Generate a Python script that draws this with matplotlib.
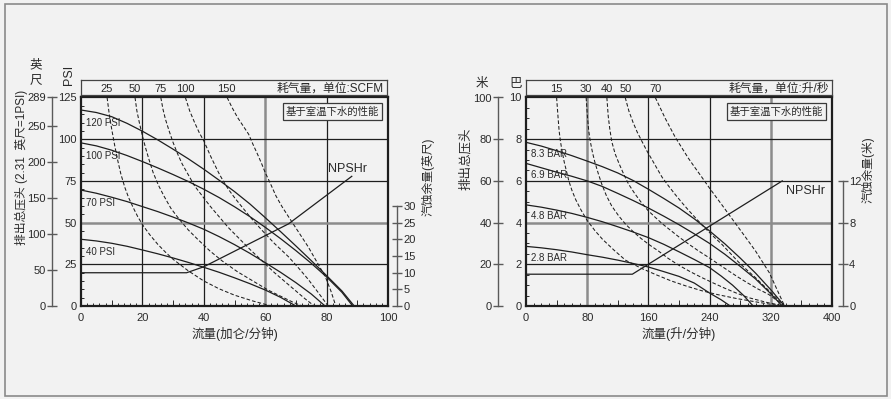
"""
Pump performance curves (US units left, metric units right).
Solid lines = discharge head at a given air inlet pressure,
dashed lines = air consumption, plus the NPSHr curve on its own scale.
"""

import matplotlib
matplotlib.use("Agg")
import matplotlib.pyplot as plt
from matplotlib import font_manager
from matplotlib.patches import Rectangle
from matplotlib.ticker import MultipleLocator

installed = {f.name for f in font_manager.fontManager.ttflist}
LATIN = "Liberation Sans Narrow" if "Liberation Sans Narrow" in installed else "Liberation Sans"
plt.rcParams["font.family"] = [LATIN, "Noto Sans CJK SC", "DejaVu Sans"]

# ---------------- left chart: gpm / PSI / SCFM / ft ----------------
gpm_ticks = [0, 20, 40, 60, 80, 100]
psi_ticks = [0, 25, 50, 75, 100, 125]
feet_ticks = [0, 50, 100, 150, 200, 250, 289]
npsh_ft_ticks = [0, 5, 10, 15, 20, 25, 30]
psi_labels = ["120 PSI", "100 PSI", "70 PSI", "40 PSI"]
scfm_labels = ["25", "50", "75", "100", "150"]

gpm_120psi = [0, 5, 10, 15, 20, 25, 30, 35, 40, 45, 50, 55, 60, 65, 70, 75, 80, 85, 89]
head_120psi = [117.5, 116, 113.5, 109.5, 104.8, 99.6, 94, 88.2, 82, 75.4, 68.6,
               61.2, 53, 44.6, 36, 27.2, 18.2, 9, 0]
gpm_100psi = [0, 5, 10, 15, 20, 25, 30, 35, 40, 45, 50, 55, 60, 65, 70, 75, 80, 85, 88.5]
head_100psi = [97.8, 96, 93.4, 90.2, 86.6, 82.8, 78.8, 74.6, 70, 65, 59.5,
               53.6, 47.2, 40.4, 33.2, 25.6, 17.4, 8.2, 0]
gpm_70psi = [0, 5, 10, 15, 20, 25, 30, 35, 40, 45, 50, 55, 60, 65, 70, 75, 79.5]
head_70psi = [69.5, 67.6, 65.2, 62.6, 59.6, 56.6, 53.3, 49.8, 46, 41.6, 36.8,
              31.6, 26, 20.2, 14, 7.2, 0]
gpm_40psi = [0, 5, 10, 15, 20, 25, 30, 35, 40, 45, 50, 55, 60, 65, 70]
head_40psi = [40, 39, 37.6, 35.8, 33.6, 31.3, 28.8, 26.1, 23.2, 20.2, 16.9,
              13.4, 9.6, 5.2, 0]

gpm_25scfm = [8.5, 9.2, 10, 11, 12, 13, 14.3, 15.5, 17, 18.5, 20.3, 22.5, 25,
              27.5, 30, 35, 40, 45, 50, 56, 62]
head_25scfm = [125, 115, 106, 96, 87, 79, 71, 65, 59, 53.5, 48, 42.5, 37,
               32.3, 28, 21, 15, 10.3, 6.5, 3, 0]
gpm_50scfm = [17.6, 18.2, 19, 20, 21, 22.2, 23.5, 25.2, 27, 29.3, 32, 35, 38,
              42, 46, 51, 56, 61, 66, 69, 72]
head_50scfm = [125, 117, 110, 102, 95, 87.5, 80, 72.5, 66, 58.5, 52, 45.5, 40,
               33, 27, 20.5, 15, 9.5, 5, 2.3, 0]
gpm_75scfm = [26, 26.7, 27.5, 28.7, 30, 31.4, 33, 35, 37, 39.5, 42, 45, 48,
              51.5, 55, 59, 63, 66.5, 70, 73, 76]
head_75scfm = [125, 118, 112, 105, 98, 91.5, 85, 78.5, 72, 66, 60, 53.5, 47,
               40.5, 34, 27, 20, 14.5, 9, 4.3, 0]
gpm_100scfm = [34, 35.4, 37, 38.5, 40, 42.3, 44.8, 46.3, 48, 50.2, 52.4, 55.5,
               58.9, 63, 67.6, 71, 74, 77.3, 80.5]
head_100scfm = [125, 117, 110, 104, 99, 89.5, 80, 75, 70, 64.5, 59.5, 52.5,
                45.5, 37.5, 29.5, 22.5, 16, 8, 0]
gpm_150scfm = [47.6, 49.2, 51, 52.8, 54.6, 56, 57.5, 58.8, 60, 61.8, 63.5, 65.5,
               67.6, 70.8, 74, 76.8, 79.6, 81.4, 83]
head_150scfm = [125, 119, 113, 108, 103, 97, 91, 85.5, 80, 73, 66, 59.5,
                53.5, 44.5, 35.5, 26.5, 17.5, 9, 0]

gpm_npsh = [0, 34.4, 40, 67.6, 88.2]
npsh_ft = [10, 10, 11.8, 24.7, 39]

# ---------------- right chart: l/min / bar / l/s / m ----------------
lpm_ticks = [0, 80, 160, 240, 320, 400]
bar_ticks = [0, 2, 4, 6, 8, 10]
metre_ticks = [0, 20, 40, 60, 80, 100]
npsh_m_ticks = [0, 4, 8, 12]
bar_labels = ["8.3 BAR", "6.9 BAR", "4.8 BAR", "2.8 BAR"]
lps_labels = ["15", "30", "40", "50", "70"]

lpm_83bar = [0, 20, 40, 60, 80, 100, 120, 140, 160, 180, 200, 220, 240, 260,
             280, 300, 320, 338]
head_83bar = [7.85, 7.67, 7.45, 7.21, 6.95, 6.68, 6.38, 6.02, 5.6, 5.16, 4.7,
              4.18, 3.6, 2.98, 2.3, 1.58, 0.78, 0]
lpm_69bar = [0, 20, 40, 60, 80, 100, 120, 140, 160, 180, 200, 220, 240, 260,
             280, 300, 318, 335]
head_69bar = [6.84, 6.63, 6.42, 6.22, 6.0, 5.73, 5.4, 5.06, 4.7, 4.31, 3.9,
              3.46, 3.0, 2.48, 1.9, 1.3, 0.66, 0]
lpm_48bar = [0, 20, 40, 60, 80, 100, 120, 140, 160, 180, 200, 220, 240, 255,
             270, 284, 297]
head_48bar = [4.85, 4.74, 4.6, 4.44, 4.25, 4.04, 3.8, 3.55, 3.28, 2.96, 2.6,
              2.23, 1.84, 1.44, 1.0, 0.52, 0]
lpm_28bar = [0, 20, 40, 60, 80, 100, 120, 140, 160, 180, 200, 220, 240, 255, 267]
head_28bar = [2.86, 2.79, 2.7, 2.59, 2.46, 2.34, 2.2, 2.04, 1.87, 1.65, 1.42,
              1.1, 0.62, 0.3, 0]

lpm_15lps = [40, 41, 42, 43.3, 45, 47.3, 50, 53, 56, 60, 65, 72, 80, 90, 100,
             115, 130, 150, 170, 190, 210, 230, 250, 275, 300, 320, 335]
head_15lps = [10, 9.5, 9, 8.4, 7.9, 7.4, 6.9, 6.45, 6.0, 5.55, 5.1, 4.6, 4.1,
              3.62, 3.2, 2.68, 2.2, 1.82, 1.5, 1.2, 0.95, 0.73, 0.55, 0.36,
              0.2, 0.08, 0]
lpm_30lps = [78.6, 80.5, 82, 84, 87, 90, 94.5, 99, 105, 112, 121, 130, 140, 150,
             161, 173, 186, 200, 215, 230, 245, 260, 275, 291, 315, 338]
head_30lps = [10, 9, 8.4, 7.9, 7.35, 6.9, 6.35, 5.85, 5.3, 4.8, 4.33, 3.93,
              3.57, 3.25, 2.94, 2.64, 2.28, 1.95, 1.64, 1.36, 1.1, 0.85, 0.62,
              0.4, 0.17, 0]
lpm_40lps = [105.7, 107.5, 109.5, 112, 116.5, 122, 128, 134, 142, 150, 159, 169,
             179, 190, 201, 213, 226, 240, 252, 265, 277, 290, 303, 317, 328, 338]
head_40lps = [10, 9.1, 8.5, 7.9, 7.3, 6.8, 6.3, 5.85, 5.4, 5.0, 4.6, 4.25,
              3.92, 3.6, 3.28, 2.96, 2.63, 2.3, 2.0, 1.68, 1.39, 1.1, 0.82,
              0.56, 0.27, 0]
lpm_50lps = [129.7, 134.5, 140, 145.5, 151.5, 158, 165, 171.5, 178, 186.5, 195,
             204, 213, 224, 235, 245.5, 256, 267, 278, 289, 300, 310, 320, 329, 338]
head_50lps = [10, 9.35, 8.8, 8.33, 7.9, 7.44, 7.0, 6.58, 6.17, 5.75, 5.35,
              4.95, 4.57, 4.13, 3.7, 3.32, 2.96, 2.53, 2.1, 1.72, 1.36, 1.0,
              0.65, 0.32, 0]
lpm_70lps = [169, 175.5, 182, 188.5, 195, 203.5, 212, 221, 230, 239, 248, 256.5,
             265, 274, 283, 291.5, 300, 309, 318, 328, 338]
head_70lps = [10, 9.5, 9.0, 8.55, 8.1, 7.6, 7.1, 6.63, 6.17, 5.7, 5.25, 4.83,
              4.4, 3.95, 3.5, 3.07, 2.64, 2.12, 1.6, 0.8, 0]

lpm_npsh = [0, 139, 335]
npsh_m = [3.05, 3.05, 12]

W, H = 891, 399
BG = "#f2f2f2"
INK = "#2a2a2a"
DARK = "#1e1e1e"
GRID_GRAY = "#8c8c8c"
SIDE = "#5a5a5a"


def px_rect(x0, y0, x1, y1):
    return [x0 / W, 1 - y1 / H, (x1 - x0) / W, (y1 - y0) / H]


def main_axes(fig, box, xlim, ylim, xticks, yticks, minor_x, minor_y, mid_x,
              dark_x, gray_x, dark_y, gray_y):
    ax = fig.add_axes(px_rect(*box))
    ax.set_facecolor("none")
    ax.set_xlim(*xlim)
    ax.set_ylim(*ylim)
    ax.set_xticks(xticks)
    ax.set_yticks(yticks)
    ax.xaxis.set_minor_locator(MultipleLocator(minor_x))
    ax.yaxis.set_minor_locator(MultipleLocator(minor_y))
    ax.tick_params(which="major", length=0, labelsize=8, colors=INK)
    ax.tick_params(axis="x", which="major", pad=5)
    ax.tick_params(axis="y", which="major", pad=3)
    ax.tick_params(which="minor", direction="in", length=2.5, width=0.7, color=INK)
    ax.vlines(mid_x, 0, 0.03, transform=ax.get_xaxis_transform(), color=INK, lw=0.7)
    for v in dark_x:
        ax.axvline(v, color=DARK, lw=0.9, zorder=1)
    for v in gray_x:
        ax.axvline(v, color=GRID_GRAY, lw=1.8, zorder=1)
    for v in dark_y:
        ax.axhline(v, color=DARK, lw=0.9, zorder=1)
    for v in gray_y:
        ax.axhline(v, color=GRID_GRAY, lw=1.8, zorder=1)
    for sp in ax.spines.values():
        sp.set_color(DARK)
        sp.set_linewidth(1.6)
    return ax


def side_axis(ax, side, ylim, ticks, offset_pt):
    sax = ax.twinx()
    sax.set_ylim(*ylim)
    for name, sp in sax.spines.items():
        sp.set_visible(name == side)
    sp = sax.spines[side]
    sp.set_position(("outward", offset_pt))
    sp.set_bounds(ticks[0], ticks[-1])
    sp.set_color(SIDE)
    sp.set_linewidth(1.0)
    if side == "left":
        sax.yaxis.tick_left()
    else:
        sax.yaxis.tick_right()
    sax.set_yticks(ticks)
    sax.tick_params(direction="inout", length=7, width=1.0, color=SIDE,
                    labelcolor=INK, labelsize=8, pad=1)
    return sax


def draw_curves(ax, pressure, names, label_dy, air):
    for (x, y), name in zip(pressure, names):
        ax.plot(x, y, color=DARK, lw=0.9, zorder=3)
        ax.annotate(name, xy=(x[0], y[0]), xytext=(3.5, -label_dy),
                    textcoords="offset points", fontsize=7, va="center",
                    ha="left", color=INK, zorder=4)
    for x, y in air:
        ax.plot(x, y, color=DARK, lw=0.75, ls=(0, (3.5, 2)), zorder=2)


def top_box(fig, box, xlim, tops, names, title):
    tax = fig.add_axes(px_rect(*box))
    tax.set_facecolor("none")
    tax.set_xlim(*xlim)
    tax.set_ylim(0, 1)
    tax.set_xticks([])
    tax.set_yticks([])
    for sp in tax.spines.values():
        sp.set_color("#444444")
        sp.set_linewidth(0.9)
    for x, name in zip(tops, names):
        tax.text(x, 0.42, name, ha="center", va="center", fontsize=8, color=INK)
    tax.text(0.99, 0.42, title, transform=tax.transAxes, ha="right",
             va="center", fontsize=8.5, color=INK)


def perf_note(ax):
    ax.text(0.971, 0.957, "基于室温下水的性能", transform=ax.transAxes,
            ha="right", va="top", fontsize=7.5, color=INK, zorder=5,
            bbox=dict(boxstyle="square,pad=0.3", fc=BG, ec="#3a3a3a", lw=0.9))


fig = plt.figure(figsize=(W / 100, H / 100), dpi=100)
fig.patch.set_facecolor(BG)
fig.patches.append(Rectangle((4.5 / W, 3 / H), 882 / W, 392 / H, transform=fig.transFigure,
                             fill=False, ec="#8a8a8a", lw=1.2))

# ---------------- left chart ----------------
box_l = (81, 97.5, 388, 306)
ax_l = main_axes(fig, box_l, (0, 100), (0, 125), gpm_ticks, psi_ticks, 2, 5,
                 [10, 30, 50, 70, 90], [20, 40, 80], [60], [25, 75, 100], [50])
draw_curves(ax_l,
            [(gpm_120psi, head_120psi), (gpm_100psi, head_100psi),
             (gpm_70psi, head_70psi), (gpm_40psi, head_40psi)],
            psi_labels, 9.3,
            [(gpm_25scfm, head_25scfm), (gpm_50scfm, head_50scfm),
             (gpm_75scfm, head_75scfm), (gpm_100scfm, head_100scfm),
             (gpm_150scfm, head_150scfm)])
perf_note(ax_l)
ax_ft = side_axis(ax_l, "left", (0, 289), feet_ticks, 21)
ax_npl = side_axis(ax_l, "right", (0, 62.7), npsh_ft_ticks, 6.5)
ax_npl.plot(gpm_npsh, npsh_ft, color=DARK, lw=0.9)
ax_npl.annotate("NPSHr", xy=(gpm_npsh[-1], npsh_ft[-1]), xytext=(-3, 1),
                textcoords="offset points", ha="center", va="bottom",
                fontsize=9, color=INK)
ax_l.set_xlabel("流量(加仑/分钟)", fontsize=9, color=INK, labelpad=3)
top_box(fig, (81, 80, 387, 95), (0, 100), [c[0] for c in
        (gpm_25scfm, gpm_50scfm, gpm_75scfm, gpm_100scfm, gpm_150scfm)],
        scfm_labels, "耗气量，单位:SCFM")

fig.text(36 / W, 1 - 65 / H, "英", fontsize=9, ha="center", va="center", color=INK)
fig.text(36 / W, 1 - 81 / H, "尺", fontsize=9, ha="center", va="center", color=INK)
fig.text(69 / W, 1 - 75 / H, "PSI", fontsize=9, rotation=90, ha="center",
         va="center", color=INK)
fig.text(21 / W, 1 - 167 / H, "排出总压头 (2.31  英尺=1PSI)", fontsize=8.5,
         rotation=90, ha="center", va="center", color=INK)
fig.text(428 / W, 1 - 177 / H, "汽蚀余量(英尺)", fontsize=8.5, rotation=90,
         ha="center", va="center", color=INK)

# ---------------- right chart ----------------
box_r = (526, 97.5, 832, 306)
ax_r = main_axes(fig, box_r, (0, 400), (0, 10), lpm_ticks, bar_ticks, 10, 0.5,
                 [40, 120, 200, 280, 360], [160, 240], [80, 320], [2, 6, 8], [4])
draw_curves(ax_r,
            [(lpm_83bar, head_83bar), (lpm_69bar, head_69bar),
             (lpm_48bar, head_48bar), (lpm_28bar, head_28bar)],
            bar_labels, 8.2,
            [(lpm_15lps, head_15lps), (lpm_30lps, head_30lps),
             (lpm_40lps, head_40lps), (lpm_50lps, head_50lps),
             (lpm_70lps, head_70lps)])
perf_note(ax_r)
ax_m = side_axis(ax_r, "left", (0, 100), metre_ticks, 20.2)
ax_npr = side_axis(ax_r, "right", (0, 20), npsh_m_ticks, 7.9)
ax_npr.plot(lpm_npsh, npsh_m, color=DARK, lw=0.9)
ax_npr.annotate("NPSHr", xy=(lpm_npsh[-1], npsh_m[-1]), xytext=(2.5, -3),
                textcoords="offset points", ha="left", va="top",
                fontsize=9, color=INK)
ax_r.set_xlabel("流量(升/分钟)", fontsize=9, color=INK, labelpad=3)
top_box(fig, (526, 80, 832, 95), (0, 400), [c[0] for c in
        (lpm_15lps, lpm_30lps, lpm_40lps, lpm_50lps, lpm_70lps)],
        lps_labels, "耗气量，单位:升/秒")

fig.text(482 / W, 1 - 84 / H, "米", fontsize=9, ha="center", va="center", color=INK)
fig.text(516 / W, 1 - 84 / H, "巴", fontsize=9, ha="center", va="center", color=INK)
fig.text(466 / W, 1 - 159 / H, "排出总压头", fontsize=9, rotation=90,
         ha="center", va="center", color=INK)
fig.text(868 / W, 1 - 170 / H, "汽蚀余量(米)", fontsize=8.5, rotation=90,
         ha="center", va="center", color=INK)

fig.savefig("out.png", dpi=100, facecolor=BG)
